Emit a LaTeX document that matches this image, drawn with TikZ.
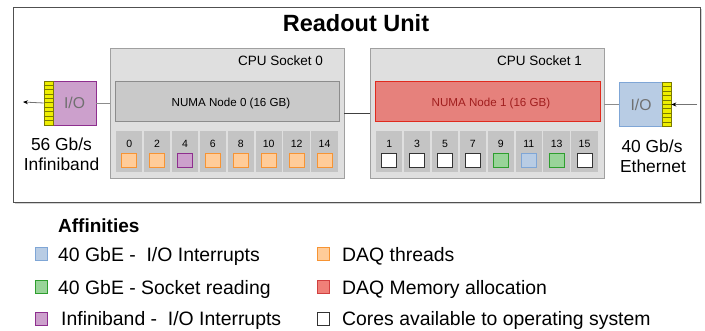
\documentclass[tikz,border=0pt]{standalone}
\usepackage{fontspec}
\setmainfont{Liberation Sans}
\usetikzlibrary{shadows,arrows.meta}

\definecolor{unitline}{HTML}{505050}
\definecolor{sockfill}{HTML}{DFDFDF}
\definecolor{sockline}{HTML}{A0A0A0}
\definecolor{numafill}{HTML}{C9C9C9}
\definecolor{numaline}{HTML}{8C8C8C}
\definecolor{memfill}{HTML}{E6817C}
\definecolor{memline}{HTML}{E02A1E}
\definecolor{memtext}{HTML}{A01E1E}
\definecolor{cellfill}{HTML}{C4C4C4}
\definecolor{orfill}{HTML}{FFCC99}
\definecolor{orline}{HTML}{F79433}
\definecolor{pufill}{HTML}{CCA0CC}
\definecolor{puline}{HTML}{8E2E8E}
\definecolor{grfill}{HTML}{99D499}
\definecolor{grline}{HTML}{2E9E2E}
\definecolor{blfill}{HTML}{B8CCE4}
\definecolor{blline}{HTML}{7FA6D6}
\definecolor{rdfill}{HTML}{F08078}
\definecolor{rdline}{HTML}{D04040}
\definecolor{plugfill}{HTML}{EEEE00}
\definecolor{plugline}{HTML}{7A7A00}
\definecolor{iotext}{HTML}{707070}

\tikzset{
  unitbox/.style={draw=unitline, line width=1.2pt, fill=white,
    drop shadow={opacity=0.35, shadow xshift=1.5pt, shadow yshift=-1.5pt}},
  sockbox/.style={draw=sockline, line width=0.8pt, fill=sockfill,
    drop shadow={opacity=0.2, shadow xshift=1pt, shadow yshift=-1pt}},
  numabox/.style={draw=numaline, line width=0.8pt, fill=numafill},
  membox/.style={draw=memline, line width=0.8pt, fill=memfill},
  cellbox/.style={fill=cellfill, inner sep=0pt, minimum width=26.4pt, minimum height=41pt},
  sq/.style={inner sep=0pt, minimum width=15pt, minimum height=14pt, line width=1pt},
  lsq/.style={inner sep=0pt, minimum width=12pt, minimum height=13pt, line width=1pt, anchor=north west},
  orsq/.style={draw=orline, fill=orfill},
  pusq/.style={draw=puline, fill=pufill},
  grsq/.style={draw=grline, fill=grfill},
  blsq/.style={draw=blline, fill=blfill},
  wtsq/.style={draw=black!80, fill=white},
  rdsq/.style={draw=rdline, fill=rdfill},
  iobox/.style={line width=0.8pt, inner sep=0pt, minimum width=43pt, minimum height=44pt},
  plug/.style={draw=plugline, fill=plugfill, line width=0.6pt, inner sep=0pt,
    minimum width=9pt, minimum height=44pt},
  corenum/.style={font=\fontsize{10.5}{12}\selectfont, anchor=base, inner sep=0pt},
  sublabel/.style={font=\fontsize{13.5}{16}\selectfont, anchor=base east, inner sep=0pt},
  numalabel/.style={font=\fontsize{11.6}{14}\selectfont, anchor=base, inner sep=0pt},
  iolabel/.style={font=\fontsize{15.7}{18}\selectfont, text=iotext, anchor=base, inner sep=0pt},
  linklabel/.style={font=\fontsize{17.4}{20}\selectfont, anchor=base, inner sep=0pt},
  legtext/.style={font=\fontsize{19.4}{22}\selectfont, anchor=base west, inner sep=0pt},
  wire/.style={draw=black!45, line width=0.8pt},
  arrowwire/.style={draw=black!55, line width=0.8pt, -{Stealth[length=5pt,width=4pt,black]}}
}

\begin{document}
\begin{tikzpicture}[x=1pt,y=-1pt]
\useasboundingbox (0,0) rectangle (705,330);

% enclosing readout unit
\node[unitbox, minimum width=687pt, minimum height=195pt, anchor=north west] (unit) at (13,7) {};
\node[font=\fontsize{23.5}{28}\selectfont\bfseries, anchor=base, inner sep=0pt] (title) at (356,31) {Readout Unit};

% CPU sockets
\node[sockbox, minimum width=234pt, minimum height=130pt] (s0) at (227,113) {};
\node[sockbox, minimum width=234pt, minimum height=130pt] (s1) at (487,113) {};
\node[sublabel] (s0lab) at (323,65) {CPU Socket 0};
\node[sublabel] (s1lab) at (582,65) {CPU Socket 1};

% NUMA nodes
\node[numabox, minimum width=224pt, minimum height=40pt] (n0) at (227,101) {};
\node[membox, minimum width=225pt, minimum height=40pt] (n1) at (487.5,101) {};
\node[numalabel] (n0lab) at (231,106) {NUMA Node 0 (16 GB)};
\node[numalabel, text=memtext] (n1lab) at (491,106) {NUMA Node 1 (16 GB)};

% cores of socket 0
\foreach \i/\n/\st in {0/0/orsq,1/2/orsq,2/4/pusq,3/6/orsq,4/8/orsq,5/10/orsq,6/12/orsq,7/14/orsq}{
  \node[cellbox] (c\n) at ({116+13.2+\i*27.9},151.5) {};
  \node[corenum] (l\n) at ({116+13.2+\i*27.9},147) {\n};
  \node[sq,\st] (q\n) at ({116+13.2+\i*27.9},160.5) {};
}
% cores of socket 1
\foreach \i/\n/\st in {0/1/wtsq,1/3/wtsq,2/5/wtsq,3/7/wtsq,4/9/grsq,5/11/blsq,6/13/grsq,7/15/wtsq}{
  \node[cellbox] (c\n) at ({376+13.2+\i*27.9},151.5) {};
  \node[corenum] (l\n) at ({376+13.2+\i*27.9},147) {\n};
  \node[sq,\st] (q\n) at ({376+13.2+\i*27.9},160.5) {};
}

% Infiniband adapter
\node[iobox, draw=puline, fill=pufill] (io0) at (74.5,103) {};
\node[iolabel] (io0lab) at (74.5,108) {I/O};
\node[plug] (p0) at (48.5,103) {};
\foreach \k in {1,...,9}{
  \draw[plugline, line width=0.5pt] ([yshift=-\k*4.4pt]p0.north west) -- ([yshift=-\k*4.4pt]p0.north east);
}
\coordinate (outL) at (23,102);
\node[linklabel] (ib1) at (61.5,150) {56 Gb/s};
\node[linklabel] (ib2) at (61.5,170) {Infiniband};

% Ethernet adapter
\node[iobox, draw=blline, fill=blfill] (io1) at (640.5,104.5) {};
\node[iolabel] (io1lab) at (641,110) {I/O};
\node[plug] (p1) at (666.5,104.5) {};
\foreach \k in {1,...,9}{
  \draw[plugline, line width=0.5pt] ([yshift=-\k*4.4pt]p1.north west) -- ([yshift=-\k*4.4pt]p1.north east);
}
\coordinate (inR) at (697,104.5);
\node[linklabel] (eth1) at (652,152) {40 Gb/s};
\node[linklabel] (eth2) at (653,172) {Ethernet};

% connections
\draw[wire] (io0.east) -- (io0.east -| s0.west);
\draw[arrowwire] (p0.west) -- (outL);
\draw[wire] (io1.west -| s1.east) -- (io1.west);
\draw[arrowwire] (inR) -- (p1.east);
\draw[draw=black!75, line width=0.8pt] (s0.east) -- (s1.west);

% legend
\node[font=\fontsize{19}{22}\selectfont\bfseries, anchor=base west, inner sep=0pt] (leg) at (58,232) {Affinities};
\node[lsq, blsq] (k1) at (35,247) {};
\node[legtext] (t1) at (58,261) {40 GbE -\ \ I/O Interrupts};
\node[lsq, grsq] (k2) at (35,280) {};
\node[legtext] (t2) at (58,294) {40 GbE - Socket reading};
\node[lsq, pusq] (k3) at (35,312) {};
\node[legtext] (t3) at (61,325) {Infiniband -\ \ I/O Interrupts};
\node[lsq, orsq] (k4) at (317,247) {};
\node[legtext] (t4) at (342,261) {DAQ threads};
\node[lsq, rdsq] (k5) at (317,280) {};
\node[legtext] (t5) at (342,294) {DAQ Memory allocation};
\node[lsq, wtsq] (k6) at (317,312) {};
\node[legtext] (t6) at (342,325) {Cores available to operating system};
\end{tikzpicture}
\end{document}
